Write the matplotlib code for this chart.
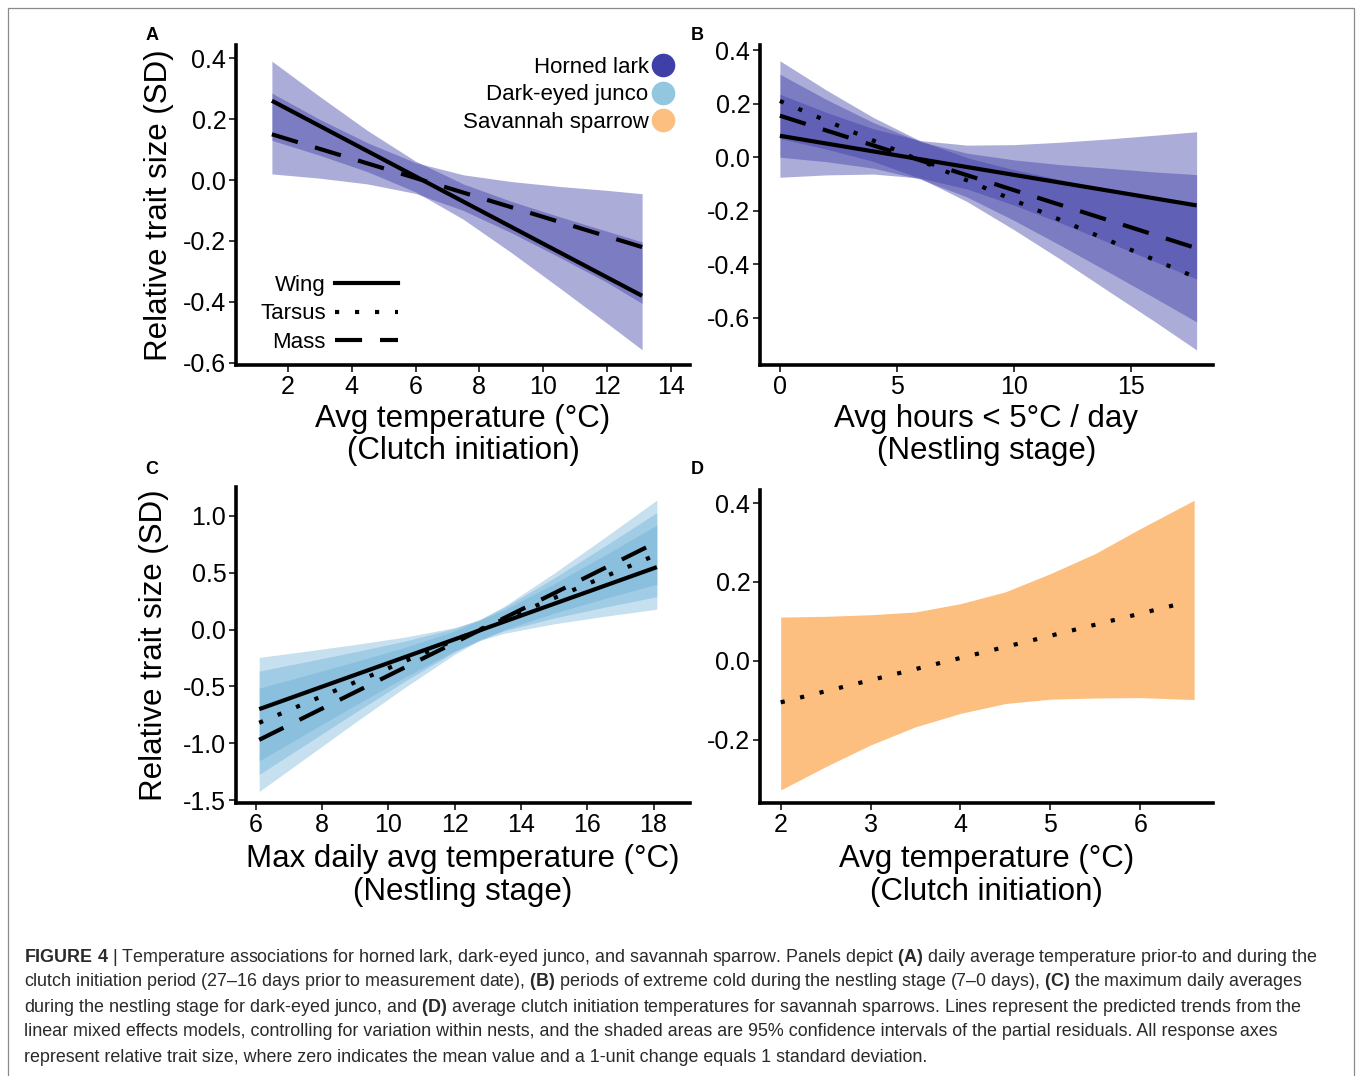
import matplotlib
matplotlib.use("Agg")
import matplotlib.pyplot as plt
from matplotlib.lines import Line2D
from matplotlib.patches import Rectangle
from matplotlib import font_manager

plt.rcParams["font.family"] = ["Liberation Sans", "DejaVu Sans"]

# species colours
LARK = "#3b3ba6"
LARK_DOT = "#3f3fa8"
JUNCO = "#62a9d4"
JUNCO_DOT = "#93c7df"
SPARROW = "#fdbf80"
BAND_ALPHA = 0.42

# ---- A: avg temperature at clutch initiation, horned lark
a_x = [1.5, 3, 4.5, 6, 7.5, 9, 10.5, 12, 13.1]
a_wing_lo = [0.13, 0.081, 0.027, -0.039, -0.129, -0.238, -0.353, -0.470, -0.557]
a_wing_hi = [0.39, 0.274, 0.162, 0.062, -0.013, -0.070, -0.120, -0.168, -0.203]
a_mass_lo = [0.02, 0.006, -0.013, -0.044, -0.100, -0.173, -0.253, -0.336, -0.405]
a_mass_hi = [0.285, 0.199, 0.122, 0.057, 0.017, -0.005, -0.021, -0.034, -0.045]
a_line_x = [1.5, 13.1]
a_wing = [0.26, -0.38]
a_mass = [0.15, -0.22]
a_xticks = [2, 4, 6, 8, 10, 12, 14]
a_yticks = [0.4, 0.2, 0.0, -0.2, -0.4, -0.6]
a_ylabels = ["0.4", "0.2", "0.0", "-0.2", "-0.4", "-0.6"]

# ---- B: hours below 5C in nestling stage, horned lark
b_x = [0, 2, 4, 6, 8, 10, 12, 14, 16, 17.8]
b_wing_lo = [-0.075, -0.066, -0.063, -0.078, -0.119, -0.179, -0.246, -0.317, -0.389, -0.455]
b_wing_hi = [0.235, 0.167, 0.106, 0.062, 0.045, 0.047, 0.056, 0.068, 0.082, 0.095]
b_tars_lo = [0.07, 0.03, -0.016, -0.079, -0.166, -0.271, -0.382, -0.498, -0.613, -0.72]
b_tars_hi = [0.36, 0.25, 0.148, 0.061, -0.002, -0.047, -0.084, -0.118, -0.153, -0.18]
b_mass_lo = [0.0, -0.017, -0.041, -0.082, -0.149, -0.236, -0.330, -0.427, -0.525, -0.615]
b_mass_hi = [0.31, 0.215, 0.129, 0.058, 0.015, -0.010, -0.028, -0.041, -0.055, -0.065]
b_line_x = [0, 17.8]
b_wing = [0.08, -0.18]
b_tars = [0.21, -0.45]
b_mass = [0.155, -0.34]
b_xticks = [0, 5, 10, 15]
b_yticks = [0.4, 0.2, 0.0, -0.2, -0.4, -0.6]
b_ylabels = ["0.4", "0.2", "0.0", "-0.2", "-0.4", "-0.6"]

# ---- C: max daily avg temperature in nestling stage, dark-eyed junco
c_x = [6.1, 7.5, 9, 10.5, 12, 12.75, 13.5, 15, 16.5, 18.1]
c_wing_lo = [-1.155, -0.918, -0.665, -0.418, -0.188, -0.097, -0.032, 0.051, 0.116, 0.18]
c_wing_hi = [-0.245, -0.191, -0.131, -0.066, 0.018, 0.083, 0.174, 0.403, 0.65, 0.92]
c_tars_lo = [-1.275, -1.011, -0.729, -0.453, -0.195, -0.09, -0.01, 0.102, 0.196, 0.29]
c_tars_hi = [-0.365, -0.284, -0.195, -0.101, 0.011, 0.09, 0.196, 0.454, 0.73, 1.03]
c_mass_lo = [-1.425, -1.131, -0.816, -0.508, -0.217, -0.096, 0.0, 0.145, 0.271, 0.40]
c_mass_hi = [-0.515, -0.404, -0.282, -0.156, -0.011, 0.084, 0.206, 0.497, 0.805, 1.14]
c_line_x = [6.1, 18.1]
c_wing = [-0.70, 0.55]
c_tars = [-0.82, 0.66]
c_mass = [-0.97, 0.77]
c_xticks = [6, 8, 10, 12, 14, 16, 18]
c_yticks = [1.0, 0.5, 0.0, -0.5, -1.0, -1.5]
c_ylabels = ["1.0", "0.5", "0.0", "-0.5", "-1.0", "-1.5"]

# ---- D: avg temperature at clutch initiation, savannah sparrow
d_x = [2.0, 2.5, 3.0, 3.5, 4.0, 4.5, 5.0, 5.5, 6.0, 6.6]
d_tars_lo = [-0.327, -0.268, -0.213, -0.167, -0.133, -0.108, -0.097, -0.094, -0.093, -0.098]
d_tars_hi = [0.111, 0.113, 0.117, 0.124, 0.145, 0.175, 0.221, 0.272, 0.335, 0.407]
d_line_x = [2.0, 6.5]
d_tars = [-0.105, 0.148]
d_xticks = [2, 3, 4, 5, 6]
d_yticks = [0.4, 0.2, 0.0, -0.2]
d_ylabels = ["0.4", "0.2", "0.0", "-0.2"]

species = ["Horned lark", "Dark-eyed junco", "Savannah sparrow"]
species_dots = [LARK_DOT, JUNCO_DOT, SPARROW]

TRAIT_STYLE = {
    "Wing": "-",
    "Tarsus": (0, (1, 3.8)),
    "Mass": (0, (6.5, 4.3)),
}

W, H = 1359, 1076


def px_axes(fig, left, top, right, bottom):
    return fig.add_axes([left / W, 1 - bottom / H, (right - left) / W, (bottom - top) / H])


def style_axis(ax, xlim, ylim, xticks, yticks, ylabels):
    ax.set_xlim(*xlim)
    ax.set_ylim(*ylim)
    ax.set_xticks(xticks)
    ax.set_xticklabels([str(t) for t in xticks])
    ax.set_yticks(yticks)
    ax.set_yticklabels(ylabels)
    for s in ["top", "right"]:
        ax.spines[s].set_visible(False)
    for s in ["left", "bottom"]:
        ax.spines[s].set_linewidth(2.6)
    ax.tick_params(direction="out", length=5, width=1.1, labelsize=18, pad=2)


def band(ax, x, lo, hi, color, alpha=BAND_ALPHA):
    ax.fill_between(x, lo, hi, color=color, alpha=alpha, lw=0, zorder=1)


def trend(ax, x, y, trait):
    ax.plot(x, y, color="black", lw=3, ls=TRAIT_STYLE[trait],
            solid_capstyle="butt", dash_capstyle="butt", zorder=3)


fig = plt.figure(figsize=(W / 100, H / 100), dpi=100)

# A
axA = px_axes(fig, 236, 45, 690, 365)
band(axA, a_x, a_wing_lo, a_wing_hi, LARK)
band(axA, a_x, a_mass_lo, a_mass_hi, LARK)
trend(axA, a_line_x, a_wing, "Wing")
trend(axA, a_line_x, a_mass, "Mass")
style_axis(axA, (0.375, 14.6), (-0.607, 0.443), a_xticks, a_yticks, a_ylabels)
axA.set_xlabel("Avg temperature (°C)\n(Clutch initiation)", fontsize=22.5, linespacing=1.1)
axA.set_ylabel("Relative trait size (SD)", fontsize=22.5)

sp_handles = [Line2D([], [], ls="", marker="o", ms=16, color=c, mec=c) for c in species_dots]
leg1 = axA.legend(sp_handles, species, loc="upper right", bbox_to_anchor=(0.965, 0.962),
                  markerfirst=False, frameon=False, fontsize=16, handlelength=1.0,
                  handletextpad=0.15, labelspacing=0.28, borderpad=0, borderaxespad=0)
axA.add_artist(leg1)

tr_handles = [Line2D([], [], color="black", lw=3, ls=TRAIT_STYLE[t],
                     dash_capstyle="butt") for t in TRAIT_STYLE]
axA.legend(tr_handles, list(TRAIT_STYLE), loc="lower left", bbox_to_anchor=(0.053, 0.038),
           markerfirst=False, frameon=False, fontsize=16, handlelength=2.85,
           handletextpad=0.4, labelspacing=0.335, borderpad=0, borderaxespad=0)

# B
axB = px_axes(fig, 760, 45, 1213, 365)
band(axB, b_x, b_wing_lo, b_wing_hi, LARK)
band(axB, b_x, b_mass_lo, b_mass_hi, LARK)
band(axB, b_x, b_tars_lo, b_tars_hi, LARK)
trend(axB, b_line_x, b_wing, "Wing")
trend(axB, b_line_x, b_tars, "Tarsus")
trend(axB, b_line_x, b_mass, "Mass")
style_axis(axB, (-0.85, 18.5), (-0.776, 0.419), b_xticks, b_yticks, b_ylabels)
axB.set_xlabel("Avg hours < 5°C / day\n(Nestling stage)", fontsize=22.5, linespacing=1.1)

# C
axC = px_axes(fig, 236, 487, 690, 803)
band(axC, c_x, c_wing_lo, c_wing_hi, JUNCO, 0.36)
band(axC, c_x, c_tars_lo, c_tars_hi, JUNCO, 0.36)
band(axC, c_x, c_mass_lo, c_mass_hi, JUNCO, 0.36)
trend(axC, c_line_x, c_wing, "Wing")
trend(axC, c_line_x, c_tars, "Tarsus")
trend(axC, c_line_x, c_mass, "Mass")
style_axis(axC, (5.4, 19.1), (-1.526, 1.255), c_xticks, c_yticks, c_ylabels)
axC.set_xlabel("Max daily avg temperature (°C)\n(Nestling stage)", fontsize=22.5, linespacing=1.1)
axC.set_ylabel("Relative trait size (SD)", fontsize=22.5)

# D
axD = px_axes(fig, 760, 490, 1213, 803)
band(axD, d_x, d_tars_lo, d_tars_hi, SPARROW, 1.0)
trend(axD, d_line_x, d_tars, "Tarsus")
style_axis(axD, (1.77, 6.81), (-0.36, 0.433), d_xticks, d_yticks, d_ylabels)
axD.set_xlabel("Avg temperature (°C)\n(Clutch initiation)", fontsize=22.5, linespacing=1.1)

for ax, yl in [(axA, -0.122), (axB, -0.122), (axC, -0.131), (axD, -0.132)]:
    ax.xaxis.set_label_coords(0.5, yl)
axA.yaxis.set_label_coords(-0.137, 0.5)
axC.yaxis.set_label_coords(-0.148, 0.5)

# panel letters
for letter, x, y in [("A", 152, 35), ("B", 697, 35), ("C", 152, 470), ("D", 697, 470)]:
    fig.text(x / W, 1 - y / H, letter, fontsize=13, fontweight="bold", ha="center", va="center")

# caption
try:
    font_manager.findfont("Liberation Sans Narrow", fallback_to_default=False)
    cap_font, cap_size = "Liberation Sans Narrow", 15.6
except ValueError:
    cap_font, cap_size = "Liberation Sans", 12.9
plt.rcParams["mathtext.fontset"] = "custom"
plt.rcParams["mathtext.bf"] = cap_font + ":bold"
plt.rcParams["mathtext.rm"] = cap_font

caption = [
    r"$\mathbf{FIGURE\ 4}$ | Temperature associations for horned lark, dark-eyed junco, and savannah sparrow. Panels depict $\mathbf{(A)}$ daily average temperature prior-to and during the",
    r"clutch initiation period (27–16 days prior to measurement date), $\mathbf{(B)}$ periods of extreme cold during the nestling stage (7–0 days), $\mathbf{(C)}$ the maximum daily averages",
    r"during the nestling stage for dark-eyed junco, and $\mathbf{(D)}$ average clutch initiation temperatures for savannah sparrows. Lines represent the predicted trends from the",
    r"linear mixed effects models, controlling for variation within nests, and the shaded areas are 95% confidence intervals of the partial residuals. All response axes",
    r"represent relative trait size, where zero indicates the mean value and a 1-unit change equals 1 standard deviation.",
]
for i, line in enumerate(caption):
    fig.text(24 / W, 1 - (957 + 25 * i) / H, line, fontsize=cap_size, family=cap_font,
             color="#2a2a2a", ha="left", va="center")

fig.add_artist(Rectangle((8 / W, -0.01), (1354 - 8) / W, 1.01 - 8 / H, transform=fig.transFigure,
                         fill=False, edgecolor="#8a8a8a", lw=0.9))

fig.savefig("out.png", dpi=100)
plt.close(fig)
